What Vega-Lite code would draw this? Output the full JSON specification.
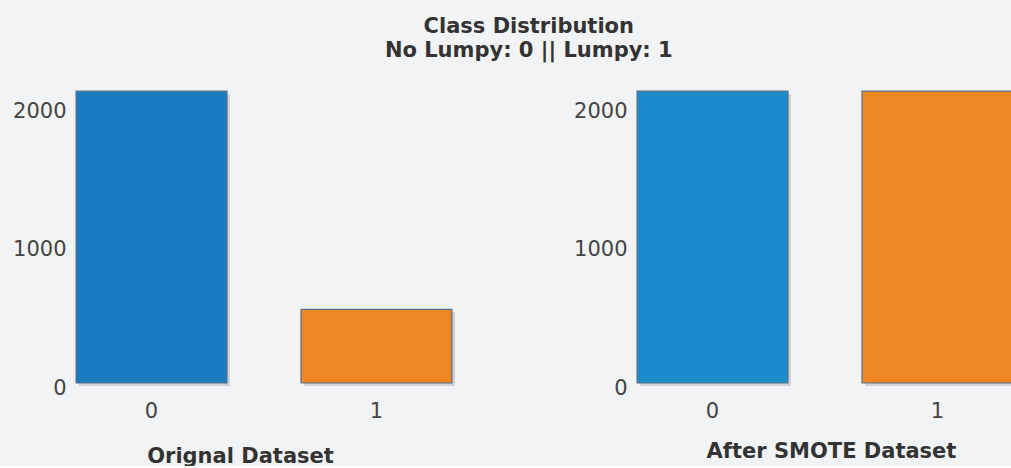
{
  "$schema": "https://vega.github.io/schema/vega-lite/v6.json",
  "background": "#f2f3f4",
  "padding": {"left": 12, "top": 16, "right": 0, "bottom": 0},
  "title": {
    "text": ["Class Distribution", "No Lumpy: 0 || Lumpy: 1"],
    "anchor": "middle",
    "font": "DejaVu Sans",
    "fontSize": 21,
    "fontWeight": "bold",
    "color": "#333333",
    "lineHeight": 24,
    "offset": 18,
    "dx": 13
  },
  "datasets": {
    "original": [
      {"class": "0", "count": 2112},
      {"class": "1", "count": 533}
    ],
    "smote": [
      {"class": "0", "count": 2112},
      {"class": "1", "count": 2112}
    ]
  },
  "spacing": 115,
  "hconcat": [
    {
      "data": {"name": "original"},
      "width": 388,
      "height": 304,
      "encoding": {
        "x": {
          "field": "class",
          "type": "nominal",
          "scale": {"paddingInner": 0.329, "paddingOuter": 0.027},
          "axis": {"title": "Orignal Dataset", "titleX": 170, "titleY": 79}
        },
        "y": {
          "field": "count",
          "type": "quantitative",
          "scale": {"domain": [0, 2200], "nice": false},
          "axis": {"values": [0, 1000, 2000], "format": "d", "title": null}
        }
      },
      "layer": [
        {
          "mark": {"type": "bar", "xOffset": 3, "yOffset": 3, "fill": "#c4c7cc", "opacity": 0.75}
        },
        {
          "mark": {"type": "bar", "stroke": "#5b6f88", "strokeWidth": 1.2},
          "encoding": {
            "color": {
              "field": "class",
              "type": "nominal",
              "scale": {"domain": ["0", "1"], "range": ["#1a7bc0", "#ef8624"]},
              "legend": null
            }
          }
        }
      ]
    },
    {
      "data": {"name": "smote"},
      "width": 388,
      "height": 304,
      "encoding": {
        "x": {
          "field": "class",
          "type": "nominal",
          "scale": {"paddingInner": 0.329, "paddingOuter": 0.027},
          "axis": {"title": "After SMOTE Dataset", "titleX": 200, "titleY": 74}
        },
        "y": {
          "field": "count",
          "type": "quantitative",
          "scale": {"domain": [0, 2200], "nice": false},
          "axis": {"values": [0, 1000, 2000], "format": "d", "title": null}
        }
      },
      "layer": [
        {
          "mark": {"type": "bar", "xOffset": 3, "yOffset": 3, "fill": "#c4c7cc", "opacity": 0.75}
        },
        {
          "mark": {"type": "bar", "stroke": "#5b6f88", "strokeWidth": 1.2},
          "encoding": {
            "color": {
              "field": "class",
              "type": "nominal",
              "scale": {"domain": ["0", "1"], "range": ["#1b8bcb", "#ef8624"]},
              "legend": null
            }
          }
        }
      ]
    }
  ],
  "resolve": {"scale": {"color": "independent", "y": "independent"}},
  "config": {
    "view": {"stroke": null},
    "axis": {
      "domain": false,
      "ticks": false,
      "tickSize": 0,
      "grid": false,
      "labelFont": "DejaVu Sans",
      "labelFontSize": 21,
      "labelColor": "#444444",
      "titleFont": "DejaVu Sans",
      "titleFontSize": 21,
      "titleFontWeight": "bold",
      "titleColor": "#333333"
    },
    "axisX": {
      "labelAngle": 0,
      "labelBaseline": "alphabetic",
      "labelPadding": 34,
      "titleBaseline": "alphabetic",
      "titleAlign": "center"
    },
    "axisY": {
      "labelPadding": 4,
      "labelBaseline": "middle",
      "labelOffset": 5
    }
  }
}
